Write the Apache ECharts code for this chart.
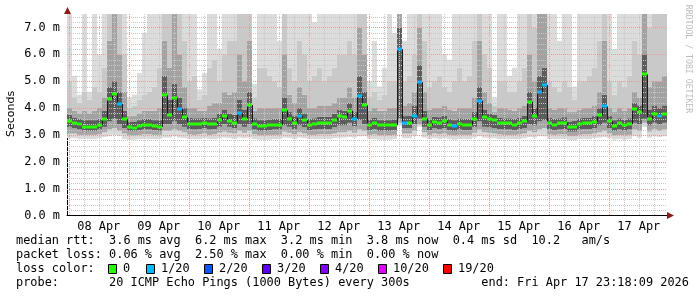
<!DOCTYPE html>
<html><head><meta charset="utf-8">
<script src="https://cdn.jsdelivr.net/npm/echarts@6/dist/echarts.min.js"></script>
<style>html,body{margin:0;padding:0;background:#fff}#c{width:697px;height:297px}</style>
</head><body><div id="c"></div>
<script>
// ---- data ----
const START_HOUR = 23.3;   // plot start: 2026-04-07 23:18 (hours since Apr 07 00:00)
const SPAN_HOURS = 240;
const STEP_HOURS = 2;
const Y_MAX = 7.5;
const dayLabels = ['08 Apr','09 Apr','10 Apr','11 Apr','12 Apr','13 Apr','14 Apr','15 Apr','16 Apr','17 Apr'];
const yTickValues = [0,1,2,3,4,5,6,7];

const median = [
 3.52,3.45,3.40,3.30,3.30,3.31,3.38,3.60,4.33,4.54,4.15,3.59,
 3.28,3.27,3.33,3.36,3.36,3.32,3.30,4.47,3.74,4.39,3.95,3.67,
 3.42,3.40,3.42,3.45,3.40,3.42,3.55,3.70,3.52,3.45,3.80,3.61,
 4.11,3.41,3.34,3.34,3.36,3.38,3.38,3.92,3.60,3.45,3.70,3.55,
 3.38,3.40,3.45,3.45,3.45,3.55,3.70,3.65,3.90,3.60,4.44,4.10,
 3.36,3.45,3.35,3.35,3.35,3.36,6.19,3.46,3.46,3.72,4.96,3.61,
 3.36,3.48,3.46,3.51,3.38,3.32,3.40,3.38,3.38,3.58,4.27,3.67,
 3.58,3.55,3.45,3.43,3.43,3.38,3.45,3.52,4.23,3.70,4.60,4.86,
 3.45,3.38,3.43,3.46,3.28,3.30,3.41,3.45,3.45,3.48,3.73,4.06,
 3.50,3.33,3.43,3.35,3.40,3.98,3.85,5.25,3.60,3.77,3.70,3.79
];
const lossCount = [
 0,0,0,0,0,0,0,0,0,0,1,0,
 0,0,0,0,0,0,0,0,0,0,1,0,
 0,0,0,0,0,0,0,0,0,0,1,0,
 0,0,0,0,0,0,0,0,0,0,1,0,
 0,0,0,0,0,0,0,0,0,1,1,0,
 0,0,0,0,0,0,1,1,0,1,1,0,
 0,0,0,0,0,1,0,0,0,0,1,0,
 0,0,0,0,0,0,0,0,0,0,1,1,
 0,0,0,0,0,0,0,0,0,0,0,1,
 0,0,0,0,0,0,0,0,0,0,1,0
];
// smoke envelopes (ping distribution per step), bottom to top
const smokeQ0 = [
 2.88,2.88,2.85,2.85,2.85,2.85,2.88,2.92,2.95,3.00,2.95,2.85,
 2.82,2.82,2.85,2.85,2.85,2.85,2.85,2.90,2.90,2.95,2.90,2.88,
 2.85,2.85,2.85,2.88,2.85,2.85,2.88,2.90,2.88,2.85,2.90,2.88,
 2.90,2.85,2.82,2.82,2.82,2.85,2.85,2.90,2.88,2.85,2.90,2.88,
 2.85,2.85,2.85,2.85,2.85,2.88,2.90,2.90,2.92,2.90,2.95,2.95,
 2.85,2.85,2.82,2.82,2.82,2.85,3.35,2.88,2.88,2.95,3.30,2.90,
 2.85,2.88,2.85,2.88,2.85,2.82,2.85,2.85,2.85,2.90,2.95,2.90,
 2.88,2.88,2.85,2.85,2.85,2.85,2.85,2.88,2.92,2.90,2.95,2.95,
 2.85,2.85,2.85,2.85,2.80,2.80,2.85,2.85,2.85,2.88,2.90,2.92,
 2.88,2.82,2.85,2.82,2.85,2.95,2.90,3.30,2.90,2.95,2.92,2.95
];
const smokeQ1 = [
 3.05,3.05,3.00,3.00,3.00,3.00,3.02,3.10,3.20,3.25,3.15,3.05,
 2.98,2.98,3.00,3.02,3.02,3.00,3.00,3.15,3.15,3.20,3.15,3.10,
 3.02,3.00,3.02,3.05,3.00,3.02,3.08,3.12,3.08,3.05,3.15,3.08,
 3.15,3.02,2.98,2.98,3.00,3.00,3.00,3.12,3.08,3.02,3.10,3.05,
 3.00,3.00,3.02,3.02,3.02,3.05,3.10,3.10,3.15,3.08,3.20,3.15,
 3.00,3.02,2.98,2.98,2.98,3.00,3.45,3.05,3.05,3.15,3.40,3.10,
 3.00,3.05,3.02,3.05,3.00,2.98,3.00,3.00,3.00,3.08,3.20,3.10,
 3.08,3.05,3.02,3.00,3.00,3.00,3.02,3.05,3.15,3.10,3.20,3.25,
 3.02,3.00,3.02,3.02,2.95,2.95,3.00,3.02,3.02,3.05,3.10,3.15,
 3.05,2.98,3.00,2.98,3.00,3.20,3.15,3.45,3.12,3.20,3.15,3.20
];
const smokeQ2 = [
 3.30,3.25,3.20,3.15,3.15,3.15,3.20,3.30,3.50,3.60,3.40,3.25,
 3.15,3.15,3.18,3.20,3.20,3.18,3.15,3.40,3.40,3.50,3.40,3.30,
 3.22,3.20,3.22,3.25,3.20,3.22,3.30,3.40,3.30,3.25,3.40,3.30,
 3.40,3.20,3.15,3.15,3.18,3.20,3.20,3.35,3.30,3.22,3.35,3.28,
 3.18,3.20,3.22,3.22,3.22,3.28,3.35,3.35,3.45,3.32,3.55,3.40,
 3.18,3.22,3.15,3.15,3.15,3.18,3.60,3.25,3.25,3.40,3.60,3.30,
 3.18,3.25,3.22,3.25,3.18,3.15,3.20,3.18,3.18,3.30,3.50,3.30,
 3.28,3.25,3.22,3.20,3.20,3.18,3.22,3.25,3.40,3.35,3.50,3.55,
 3.22,3.18,3.20,3.22,3.12,3.12,3.20,3.22,3.22,3.25,3.35,3.45,
 3.25,3.15,3.20,3.15,3.20,3.45,3.40,3.60,3.35,3.45,3.40,3.45
];
const smokeQ3 = [
 3.75,3.65,3.60,3.55,3.55,3.55,3.60,3.90,4.80,5.00,4.60,3.90,
 3.50,3.50,3.55,3.60,3.60,3.55,3.55,5.20,4.30,4.90,4.40,4.00,
 3.65,3.62,3.62,3.65,3.62,3.65,3.78,3.95,3.80,3.75,4.30,3.95,
 4.60,3.62,3.55,3.55,3.58,3.60,3.60,4.40,3.85,3.70,4.00,3.80,
 3.60,3.62,3.68,3.68,3.68,3.78,3.95,3.90,4.20,3.85,5.20,4.60,
 3.58,3.65,3.55,3.55,3.55,3.58,7.00,3.70,3.72,4.10,5.60,3.90,
 3.58,3.68,3.66,3.72,3.60,3.55,3.62,3.60,3.60,3.85,4.80,3.95,
 3.80,3.75,3.65,3.62,3.62,3.60,3.65,3.72,4.60,4.00,5.20,5.50,
 3.65,3.60,3.62,3.66,3.50,3.52,3.62,3.65,3.65,3.70,4.00,4.50,
 3.70,3.55,3.62,3.56,3.62,4.20,4.10,6.00,3.95,4.10,4.00,4.10
];
const smokeQ4 = [
 4.00,3.90,3.80,3.90,3.80,3.90,4.00,4.40,6.50,7.50,6.00,4.60,
 3.70,3.70,3.80,3.90,3.90,3.90,4.00,6.50,5.50,7.50,6.00,4.80,
 4.00,4.00,3.90,3.90,4.10,4.20,4.20,4.60,4.50,4.60,6.00,5.00,
 6.50,3.90,4.00,4.00,4.00,4.00,4.00,6.00,4.50,4.20,4.80,4.50,
 4.00,4.00,4.10,4.10,4.10,4.20,4.40,4.40,4.80,4.40,7.00,6.00,
 3.90,4.00,3.90,3.90,4.00,4.00,7.50,4.10,4.20,4.60,7.00,4.60,
 3.95,4.00,4.00,4.10,3.95,3.90,4.00,4.00,4.00,4.40,6.50,4.60,
 4.20,3.85,4.00,4.00,3.95,3.90,4.00,4.10,6.00,5.00,7.50,7.50,
 4.00,3.95,4.00,4.00,3.85,3.85,3.95,4.00,4.00,4.10,4.60,6.50,
 4.00,3.85,4.00,3.90,4.00,4.60,4.40,7.50,4.80,5.00,5.00,5.20
];
const smokeQ5 = [
 5.00,4.40,4.20,4.60,4.30,4.80,4.60,5.50,7.50,7.50,7.50,6.00,
 4.00,4.10,4.30,4.50,4.60,4.80,5.50,7.50,7.50,7.50,7.50,6.50,
 5.00,5.20,4.30,4.50,5.50,5.80,5.00,6.00,6.50,6.50,7.50,7.50,
 7.50,4.40,5.50,5.50,5.20,5.00,4.80,7.50,5.50,5.00,6.50,6.00,
 5.00,5.20,5.50,5.00,5.20,5.50,6.00,6.00,6.50,6.00,7.50,7.50,
 4.40,4.60,4.30,4.50,5.00,5.00,7.50,5.00,5.20,6.00,7.50,6.50,
 4.80,5.00,5.20,4.80,4.60,5.00,5.50,5.00,5.20,6.50,7.50,6.00,
 5.50,4.10,5.00,5.00,4.60,4.60,5.00,5.50,7.50,7.00,7.50,7.50,
 5.00,4.80,4.60,5.00,4.80,4.30,5.00,5.00,5.20,5.50,6.50,7.50,
 5.00,4.50,5.00,4.80,5.20,6.50,6.00,7.50,7.00,7.50,7.50,7.50
];
const smokeQ6 = [
 7.50,5.20,4.50,7.50,4.60,7.50,6.00,7.50,7.50,7.50,7.50,7.50,
 4.40,4.50,5.30,6.80,7.50,7.50,7.50,7.50,7.50,7.50,7.50,7.50,
 7.50,7.50,4.70,5.30,7.50,7.50,6.20,7.50,7.50,7.50,7.50,7.50,
 7.50,4.90,7.50,7.50,7.50,7.50,6.50,7.50,7.50,7.50,7.50,7.50,
 7.50,7.20,7.50,7.50,7.50,7.50,7.50,7.50,7.50,7.50,7.50,7.50,
 5.00,6.50,4.80,5.50,7.50,6.80,7.50,6.50,7.50,7.50,7.50,7.50,
 7.50,7.50,7.50,6.00,5.80,7.50,7.50,7.50,7.50,7.50,7.50,7.50,
 7.50,4.40,7.50,7.50,5.20,5.50,7.50,7.50,7.50,7.50,7.50,7.50,
 7.50,7.50,6.50,7.50,7.50,4.80,7.50,7.50,7.50,7.50,7.50,7.50,
 7.50,6.20,7.50,7.50,7.50,7.50,7.50,7.50,7.50,7.50,7.50,7.50
];

const lossThresholds = [0,1,2,3,4,10,19];
const lossLabels = ['0','1/20','2/20','3/20','4/20','10/20','19/20'];
const lossColors = ['#26ff00','#00b8ff','#0059ff','#5e00ff','#7e00ff','#dd00ff','#ff0000'];

const statsMedian = 'median rtt:  3.6 ms avg  6.2 ms max  3.2 ms min  3.8 ms now  0.4 ms sd  10.2   am/s';
const statsLoss   = 'packet loss: 0.06 % avg  2.50 % max  0.00 % min  0.00 % now';
const lossTitle   = 'loss color:';
const probeLine   = 'probe:       20 ICMP Echo Pings (1000 Bytes) every 300s          end: Fri Apr 17 23:18:09 2026';
const yAxisTitle  = 'Seconds';
const watermark   = 'RRDTOOL / TOBI OETIKER';

// ---- build ----
const MONO = '"DejaVu Sans Mono", "Liberation Mono", monospace';
const bandColors = ['#dadada','#a6a6a6','#5c5c5c','#a2a2a2','#c9c9c9','#dcdcdc'];
function lossColor(n){ let c = lossColors[0]; for(let i=0;i<lossThresholds.length;i++){ if(n>=lossThresholds[i]) c = lossColors[i]; } return c; }

const stepTime = median.map((_,k)=>START_HOUR + STEP_HOURS*k);
const smokeData = median.map((_,k)=>[stepTime[k], smokeQ0[k], smokeQ1[k], smokeQ2[k], smokeQ3[k], smokeQ4[k], smokeQ5[k], smokeQ6[k]]);
const medianData = median.map((v,k)=>[stepTime[k], v, lossCount[k]]);

const vGrid = [];
for (let h = 24; h < START_HOUR + SPAN_HOURS; h += 6) vGrid.push([h, h % 24 === 0 ? 1 : 0]);
const hGrid = [];
for (let i = 1; i <= Y_MAX*5; i++) { const v = i/5; hGrid.push([v, i % 5 === 0 ? 1 : 0]); }
const dayLabelHours = dayLabels.map((_,i)=>36 + 24*i);

const MINOR = '#c8c8c8', MAJOR = '#e69a9a';

const chart = echarts.init(document.getElementById('c'), null, {renderer:'canvas'});
const option = {
  animation: false,
  backgroundColor: '#ffffff',
  grid: { left: 67, top: 14, width: 600, height: 201.5, containLabel: false },
  xAxis: {
    type: 'value', min: START_HOUR, max: START_HOUR + SPAN_HOURS,
    axisLine: { show: true, lineStyle: { color: '#000', width: 1 } },
    axisTick: { show: false },
    splitLine: { show: false },
    axisLabel: {
      customValues: dayLabelHours,
      formatter: v => { const i = dayLabelHours.indexOf(Math.round(v)); return i >= 0 ? dayLabels[i] : ''; },
      fontFamily: MONO, fontSize: 11.9, color: '#000', margin: 5
    }
  },
  yAxis: {
    type: 'value', min: 0, max: Y_MAX, interval: 1,
    axisLine: { show: true, lineStyle: { color: '#000', width: 1 } },
    axisTick: { show: false },
    splitLine: { show: false },
    axisLabel: {
      formatter: v => yTickValues.indexOf(v) >= 0 ? v.toFixed(1) + ' m' : '',
      fontFamily: MONO, fontSize: 11.9, color: '#000', margin: 7
    }
  },
  series: [
    {
      type: 'custom', name: 'smoke', z: 1, data: smokeData,
      renderItem: (params, api) => {
        const t0 = api.value(0), t1 = t0 + STEP_HOURS;
        const q = [1,2,3,4,5,6,7].map(i => api.value(i));
        const children = [];
        for (let i = 0; i < 6; i++) {
          const a = api.coord([t0, q[i]]), b = api.coord([t1, q[i+1]]);
          children.push({ type: 'rect', shape: { x: a[0], y: b[1], width: b[0]-a[0], height: a[1]-b[1] }, style: { fill: bandColors[i] } });
        }
        return { type: 'group', children };
      }
    },
    {
      type: 'custom', name: 'vgrid', z: 2, data: vGrid, silent: true,
      renderItem: (params, api) => {
        const t = api.value(0), major = api.value(1);
        const top = api.coord([t, Y_MAX]), bot = api.coord([t, 0]);
        const x = Math.round(top[0]) + 0.5;
        return { type: 'line', shape: { x1: x, y1: top[1], x2: x, y2: bot[1] }, style: { stroke: major ? MAJOR : MINOR, lineWidth: 1, lineDash: [1,1] } };
      }
    },
    {
      type: 'custom', name: 'hgrid', z: 2, data: hGrid, silent: true,
      renderItem: (params, api) => {
        const v = api.value(0), major = api.value(1);
        const l = api.coord([START_HOUR, v]), r = api.coord([START_HOUR + SPAN_HOURS, v]);
        const y = Math.round(l[1]) + 0.5;
        return { type: 'line', shape: { x1: l[0], y1: y, x2: r[0], y2: y }, style: { stroke: major ? MAJOR : MINOR, lineWidth: 1, lineDash: [1,1] } };
      }
    },
    {
      type: 'custom', name: 'median', z: 3, data: medianData,
      renderItem: (params, api) => {
        const k = params.dataIndex;
        const t0 = api.value(0), v = api.value(1), n = api.value(2);
        const a = api.coord([t0, v]), b = api.coord([t0 + STEP_HOURS, v]);
        const children = [];
        if (k > 0) {
          const p = api.coord([t0, median[k-1]]);
          if (Math.abs(p[1] - a[1]) > 3) {
            const x = Math.round(a[0]) + 0.5;
            children.push({ type: 'line', shape: { x1: x, y1: p[1], x2: x, y2: a[1] }, style: { stroke: '#1a1a1a', lineWidth: 1 } });
          }
        }
        children.push({ type: 'rect', shape: { x: a[0], y: Math.round(a[1]) - 1.5, width: b[0]-a[0], height: 3 }, style: { fill: lossColor(n) } });
        return { type: 'group', children };
      }
    }
  ],
  graphic: []
};

const g = [];
// axis arrows
g.push({ type: 'polygon', shape: { points: [[667,212],[674,215.5],[667,219]] }, style: { fill: '#8b1a1a' }, z: 10 });
g.push({ type: 'polygon', shape: { points: [[64,14],[67.5,7],[71,14]] }, style: { fill: '#8b1a1a' }, z: 10 });
// axis title and watermark
g.push({ type: 'text', x: 11, y: 114, rotation: Math.PI/2, style: { text: yAxisTitle, font: '11px "DejaVu Sans", sans-serif', fill: '#000', textAlign: 'center', textVerticalAlign: 'middle' } });
g.push({ type: 'text', x: 688, y: 59, rotation: -Math.PI/2, style: { text: watermark, font: '8.2px ' + MONO, fill: '#bdbdbd', textAlign: 'center', textVerticalAlign: 'middle' } });
// stats lines
const textStyle = (t) => ({ text: t, font: '11.9px ' + MONO, fill: '#000', textAlign: 'left', textVerticalAlign: 'middle' });
g.push({ type: 'text', x: 16, y: 241, style: textStyle(statsMedian) });
g.push({ type: 'text', x: 16, y: 255, style: textStyle(statsLoss) });
g.push({ type: 'text', x: 16, y: 269, style: textStyle(lossTitle) });
g.push({ type: 'text', x: 16, y: 283, style: textStyle(probeLine) });
const boxX = [108, 146, 204, 262, 320, 378, 443];
lossLabels.forEach((lab, i) => {
  g.push({ type: 'rect', shape: { x: boxX[i] + 0.5, y: 264.5, width: 8, height: 9 }, style: { fill: lossColors[i], stroke: '#000', lineWidth: 1 } });
  g.push({ type: 'text', x: boxX[i] + 15, y: 269, style: textStyle(lab) });
});
option.graphic = g;
chart.setOption(option);
</script>
</body></html>
